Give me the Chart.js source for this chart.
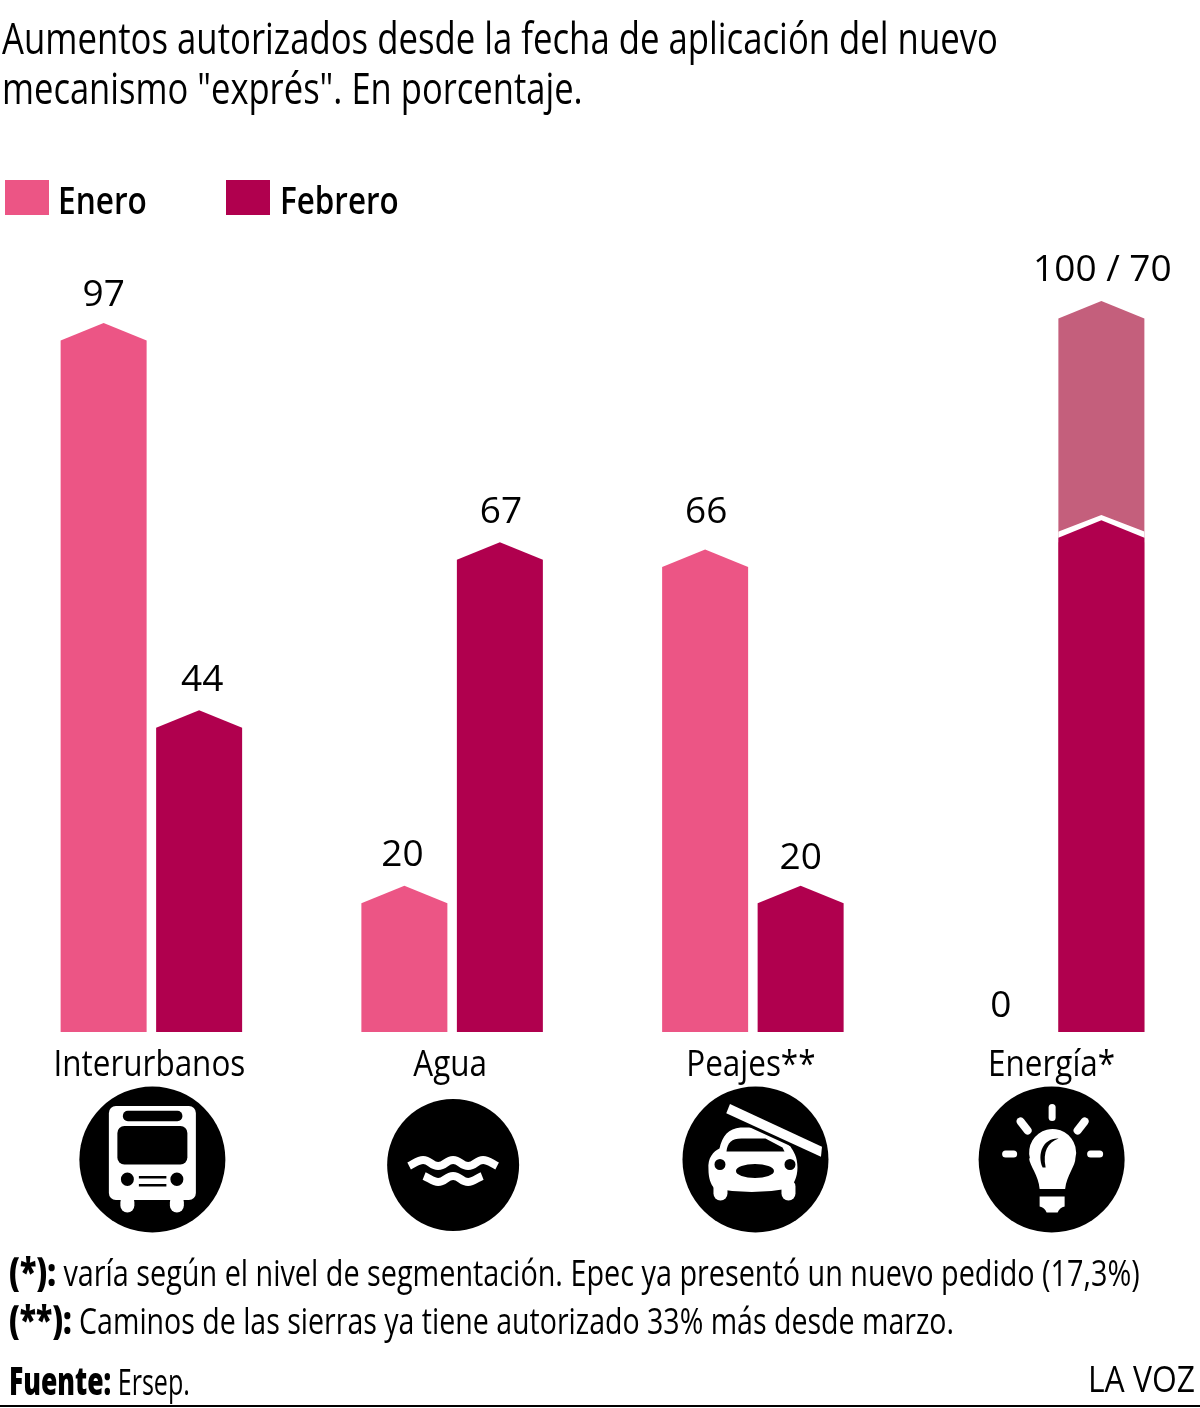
<!DOCTYPE html>
<html lang="es">
<head>
<meta charset="utf-8">
<title>Aumentos autorizados</title>
<script src="https://cdn.jsdelivr.net/npm/chart.js@4/dist/chart.umd.js"></script>
<style>
html, body { margin: 0; padding: 0; background: #fff; width: 1200px; height: 1408px; overflow: hidden; }
body { position: relative; font-family: "Open Sans", sans-serif; color: #000; }
#grafico { position: absolute; left: 0; top: 0; }
.linea { position: absolute; white-space: nowrap; transform-origin: left center; }
.titulo { font-size: 44px; line-height: 50px; left: 2px; }
.nota { font-size: 36px; line-height: 44px; left: 9px; }
b { font-weight: 800; font-size: 38px; }
.caja { position: absolute; width: 44px; height: 35px; top: 180px; }
.rotulo { top: 177px; font-size: 38px; line-height: 44px; font-weight: 600; }
#pie { position: absolute; left: 0; top: 1405px; width: 1200px; height: 2px; background: #000; }
</style>
</head>
<body>
<canvas id="grafico" width="1204" height="1408"></canvas>
<div class="linea titulo" data-w="996" style="top:12px">Aumentos autorizados desde la fecha de aplicación del nuevo</div>
<div class="linea titulo" data-w="581" style="top:62px">mecanismo "exprés". En porcentaje.</div>
<div id="leyenda"></div>
<div class="linea nota" data-w="1131" style="top:1249px"><b>(*):</b> varía según el nivel de segmentación. Epec ya presentó un nuevo pedido (17,3%)</div>
<div class="linea nota" data-w="945" style="top:1297px"><b>(**):</b> Caminos de las sierras ya tiene autorizado 33% más desde marzo.</div>
<div class="linea nota" data-w="181" style="top:1358px"><b>Fuente:</b> Ersep.</div>
<div class="linea nota" data-w="107" style="top:1357px;left:1088px">LA VOZ</div>
<div id="pie"></div>

<script>
const categorias = ['Interurbanos', 'Agua', 'Peajes**', 'Energía*'];
const enero = [97, 20, 66, 0];
const febrero = [44, 67, 20, 70];
const energiaTope = [null, null, null, 100];

const colorEnero = '#ec5585';
const colorFebrero = '#b0004e';
const colorTope = '#c45f7c';

// bars with a pointed roof, the apex sits on the value
class HouseBar extends Chart.BarElement {
    draw(ctx) {
        const { x, y, base, width } = this.getProps(['x', 'y', 'base', 'width']);
        if (base - y < 1) return;
        const roof = 17.5;
        const left = x - width / 2;
        const right = x + width / 2;
        ctx.save();
        // white chevron so the bar separates from whatever is behind it
        ctx.save();
        ctx.beginPath();
        ctx.rect(left, y - 20, width, roof + 30);
        ctx.clip();
        ctx.beginPath();
        ctx.moveTo(left - 5, y + roof + 1);
        ctx.lineTo(x, y);
        ctx.lineTo(right + 5, y + roof + 1);
        ctx.strokeStyle = '#fff';
        ctx.lineWidth = 10;
        ctx.stroke();
        ctx.restore();
        ctx.beginPath();
        ctx.moveTo(left, base);
        ctx.lineTo(left, y + roof);
        ctx.lineTo(x, y);
        ctx.lineTo(right, y + roof);
        ctx.lineTo(right, base);
        ctx.closePath();
        ctx.fillStyle = this.options.backgroundColor;
        ctx.fill();
        ctx.restore();
    }
}
HouseBar.id = 'houseBar';
HouseBar.defaults = Chart.BarElement.defaults;

class HouseBarController extends Chart.BarController {}
HouseBarController.id = 'houseBar';
HouseBarController.defaults = { ...Chart.BarController.defaults, dataElementType: 'houseBar' };
HouseBarController.overrides = Chart.BarController.overrides;

// category axis with horizontally condensed labels
class CondensedCategory extends Chart.CategoryScale {
    drawLabels() {
        const ctx = this.ctx;
        this.getLabelItems().forEach(item => {
            ctx.save();
            ctx.translate(item.options.translation[0], item.options.translation[1]);
            ctx.scale(0.85, 1);
            ctx.font = item.font.string;
            ctx.fillStyle = item.options.color;
            ctx.textAlign = item.options.textAlign;
            ctx.textBaseline = item.options.textBaseline;
            ctx.fillText(item.label, 0, item.textOffset);
            ctx.restore();
        });
    }
}
CondensedCategory.id = 'condensedCategory';
CondensedCategory.defaults = Chart.CategoryScale.defaults;

Chart.register(HouseBar, HouseBarController, CondensedCategory);

// value labels over the bars: [dx, gap above the apex]
const ajusteEnero = [[0, 29], [-2, 32], [1, 39], [-5, 28]];
const ajusteFebrero = [[3, 32], [1, 32], [0, 29], null];
const ajusteTope = [null, null, null, [1, 33]];

const valueLabels = {
    id: 'valueLabels',
    afterDatasetsDraw(chart) {
        const ctx = chart.ctx;
        ctx.save();
        ctx.font = '37px "Open Sans"';
        ctx.fillStyle = '#000';
        ctx.textAlign = 'center';
        ctx.textBaseline = 'middle';
        const put = (datasetIndex, ajuste, texto) => {
            chart.getDatasetMeta(datasetIndex).data.forEach((bar, i) => {
                if (!ajuste[i]) return;
                ctx.fillText(texto(i), bar.x + ajuste[i][0], bar.y - ajuste[i][1] + 2);
            });
        };
        put(0, ajusteEnero, i => String(enero[i]));
        put(1, ajusteFebrero, i => String(febrero[i]));
        put(2, ajusteTope, i => energiaTope[i] + ' / ' + febrero[i]);
        ctx.restore();
    }
};

function roundedRect(ctx, x, y, w, h, r) {
    ctx.beginPath();
    ctx.roundRect(x, y, w, h, r);
    ctx.fill();
}

function line(ctx, x1, y1, x2, y2) {
    ctx.beginPath();
    ctx.moveTo(x1, y1);
    ctx.lineTo(x2, y2);
    ctx.stroke();
}

function drawBus(ctx) {
    ctx.fillStyle = '#fff';
    roundedRect(ctx, -32, 36, 14, 17, 7);
    roundedRect(ctx, 17.5, 36, 14, 17, 7);
    roundedRect(ctx, -43.5, -53.5, 87, 94, 7);
    ctx.fillStyle = '#000';
    roundedRect(ctx, -29.5, -48.8, 59.5, 10.5, 5);
    roundedRect(ctx, -35, -33.5, 70, 38.5, 7);
    ctx.beginPath();
    ctx.ellipse(-25, 19.8, 6.5, 6.8, 0, 0, Math.PI * 2);
    ctx.ellipse(24.5, 19.8, 6.5, 6.8, 0, 0, Math.PI * 2);
    ctx.fill();
    ctx.fillRect(-13.5, 16.5, 27.5, 2.5);
    ctx.fillRect(-13.5, 24.5, 27.5, 2.5);
}

function drawWater(ctx) {
    ctx.strokeStyle = '#fff';
    ctx.lineWidth = 8;
    ctx.beginPath();
    ctx.moveTo(-44, 1);
    ctx.bezierCurveTo(-38, -2, -35, -5, -30, -5);
    ctx.bezierCurveTo(-23, -5, -22, 1, -15, 1);
    ctx.bezierCurveTo(-8, 1, -7, -5, 0, -5);
    ctx.bezierCurveTo(7, -5, 8, 1, 15, 1);
    ctx.bezierCurveTo(22, 1, 23, -5, 30, -5);
    ctx.bezierCurveTo(35, -5, 38, -2, 44, 1);
    ctx.stroke();
    ctx.beginPath();
    ctx.moveTo(-29, 11);
    ctx.bezierCurveTo(-24, 13, -20, 17, -15, 17);
    ctx.bezierCurveTo(-8, 17, -7, 11, 0, 11);
    ctx.bezierCurveTo(7, 11, 8, 17, 15, 17);
    ctx.bezierCurveTo(20, 17, 24, 13, 29, 11);
    ctx.stroke();
}

function drawCar(ctx) {
    ctx.fillStyle = '#fff';
    roundedRect(ctx, -42, 20, 14, 21, 7);
    roundedRect(ctx, 26, 20, 14, 21, 7);
    ctx.beginPath();
    ctx.moveTo(-47, 10);
    ctx.bezierCurveTo(-48, -2, -42, -8, -36, -11);
    ctx.bezierCurveTo(-33, -24, -27, -31, -15, -32);
    ctx.lineTo(12, -32);
    ctx.lineTo(35, -13);
    ctx.bezierCurveTo(38, -8, 42, -3, 42, 8);
    ctx.bezierCurveTo(42, 18, 38, 25, 34, 29);
    ctx.quadraticCurveTo(-4, 36, -41, 29);
    ctx.bezierCurveTo(-45, 25, -47, 18, -47, 10);
    ctx.fill();
    ctx.fillStyle = '#000';
    ctx.beginPath();
    ctx.moveTo(-29, -8);
    ctx.bezierCurveTo(-28, -17, -24, -21, -14, -21);
    ctx.lineTo(10, -21);
    ctx.lineTo(27, -12);
    ctx.lineTo(29, -8);
    ctx.closePath();
    ctx.fill();
    ctx.beginPath();
    ctx.ellipse(-35.5, 5, 5.5, 5.5, 0, 0, Math.PI * 2);
    ctx.ellipse(34.5, 5, 5.5, 5.5, 0, 0, Math.PI * 2);
    ctx.fill();
    ctx.beginPath();
    ctx.ellipse(-0.5, 11.5, 19, 7, 0, 0, Math.PI * 2);
    ctx.fill();
    // barrier, with a black margin over the roof
    const barrier = new Path2D();
    barrier.moveTo(-25.5, -55.5);
    barrier.lineTo(66.5, -12.8);
    barrier.lineTo(65.5, -2.8);
    barrier.lineTo(-29.2, -46.2);
    barrier.closePath();
    ctx.strokeStyle = '#000';
    ctx.lineWidth = 6;
    ctx.stroke(barrier);
    ctx.fillStyle = '#fff';
    ctx.fill(barrier);
}

function drawBulb(ctx) {
    ctx.strokeStyle = '#fff';
    ctx.lineCap = 'round';
    ctx.lineWidth = 7;
    line(ctx, 0.5, -52, 0.5, -42);
    ctx.lineWidth = 8;
    line(ctx, -31, -38, -24, -29);
    line(ctx, 33, -38, 26, -29);
    ctx.lineWidth = 7;
    line(ctx, -46, -5.5, -38, -5.5);
    line(ctx, 39, -5.5, 48, -5.5);
    ctx.lineCap = 'butt';
    ctx.fillStyle = '#fff';
    ctx.beginPath();
    ctx.arc(1, -7, 23.5, Math.PI * 0.92, Math.PI * 0.08);
    ctx.bezierCurveTo(24, 6, 15, 16, 13.5, 29.5);
    ctx.lineTo(-12, 29.5);
    ctx.bezierCurveTo(-13, 16, -22, 6, -22.5, -1);
    ctx.closePath();
    ctx.fill();
    ctx.beginPath();
    ctx.moveTo(-12, 37);
    ctx.lineTo(13, 37);
    ctx.lineTo(13, 47);
    ctx.quadraticCurveTo(8, 48, 6, 53);
    ctx.lineTo(-5, 53);
    ctx.quadraticCurveTo(-7, 48, -12, 47);
    ctx.closePath();
    ctx.fill();
    ctx.fillStyle = '#000';
    ctx.beginPath();
    ctx.moveTo(-9, 8);
    ctx.bezierCurveTo(-15, -6, -8, -22, 7, -21);
    ctx.bezierCurveTo(-4, -17, -9, -8, -6, 8);
    ctx.closePath();
    ctx.fill();
}

// round icons under the axis: [dx from the category centre, y, radius, drawing]
const iconos = [[1, 1159.5, 73, drawBus], [1, 1165, 66, drawWater], [2.6, 1159.5, 73, drawCar], [-2, 1159.5, 73, drawBulb]];

const iconPlugin = {
    id: 'iconPlugin',
    afterDraw(chart) {
        const ctx = chart.ctx;
        iconos.forEach((icono, i) => {
            ctx.save();
            ctx.translate(chart.scales.x.getPixelForValue(i) + icono[0], icono[1]);
            ctx.fillStyle = '#000';
            ctx.beginPath();
            ctx.arc(0, 0, icono[2], 0, Math.PI * 2);
            ctx.fill();
            icono[3](ctx);
            ctx.restore();
        });
    }
};

const chart = new Chart(document.getElementById('grafico'), {
    type: 'houseBar',
    data: {
        labels: categorias,
        datasets: [
            { label: 'Enero', data: enero, backgroundColor: colorEnero, stack: 'enero' },
            { label: 'Febrero', data: febrero, backgroundColor: colorFebrero, stack: 'febrero' },
            { label: 'Tope', data: energiaTope, backgroundColor: colorTope, stack: 'febrero' }
        ]
    },
    options: {
        responsive: false,
        animation: false,
        categoryPercentage: 191 / 300.75,
        barPercentage: 86 / 95.5,
        layout: { padding: { left: 1, right: 0, top: 301, bottom: 0 } },
        plugins: { legend: { display: false }, tooltip: { enabled: false } },
        scales: {
            x: {
                type: 'condensedCategory',
                grid: { display: false },
                border: { display: false },
                ticks: {
                    padding: 3,
                    labelOffset: -2,
                    color: '#000',
                    maxRotation: 0,
                    font: { family: '"Open Sans"', size: 37 }
                },
                afterFit(scale) { scale.height = 376; }
            },
            y: {
                display: false,
                stacked: false,
                min: 0,
                max: 100
            }
        }
    },
    plugins: [valueLabels, iconPlugin]
});

// legend from the first two datasets
const posiciones = [[5, 58, 89], [226, 280, 119]];
const leyenda = document.getElementById('leyenda');
chart.data.datasets.slice(0, 2).forEach((ds, i) => {
    const caja = document.createElement('span');
    caja.className = 'caja';
    caja.style.left = posiciones[i][0] + 'px';
    caja.style.background = ds.backgroundColor;
    const rotulo = document.createElement('span');
    rotulo.className = 'linea rotulo';
    rotulo.dataset.w = posiciones[i][2];
    rotulo.style.left = posiciones[i][1] + 'px';
    rotulo.textContent = ds.label;
    leyenda.appendChild(caja);
    leyenda.appendChild(rotulo);
});

// condense each text line to its set width
document.querySelectorAll('.linea').forEach(el => {
    el.style.transform = 'scaleX(' + (el.dataset.w / el.offsetWidth) + ')';
});
</script>
</body>
</html>
